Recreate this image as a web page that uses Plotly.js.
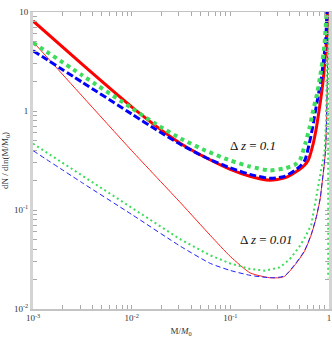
<!DOCTYPE html>
<html>
<head>
<meta charset="utf-8">
<script src="https://cdn.plot.ly/plotly-3.0.1.min.js"></script>
<style>
  html, body { margin: 0; padding: 0; background: #fff; }
  #myGraph { width: 332px; height: 337px; }
</style>
</head>
<body>
<div id="myGraph"></div>
<script>
// Δz = 0.1 (thick lines)
let thickRedM = [0.001, 0.00316, 0.01, 0.0178, 0.0316, 0.0562, 0.1, 0.158, 0.251, 0.355, 0.501, 0.562, 0.617, 0.692, 0.748, 0.794, 0.841, 0.881, 0.908, 0.938, 0.959, 0.973];
let thickRedN = [8.13, 2.95, 1.10, 0.700, 0.468, 0.339, 0.257, 0.219, 0.200, 0.211, 0.257, 0.282, 0.320, 0.468, 0.692, 1.02, 1.51, 2.24, 3.27, 4.79, 10.0, 25];

let thickBlueM = [0.001, 0.00316, 0.01, 0.0178, 0.0316, 0.0562, 0.1, 0.158, 0.251, 0.355, 0.501, 0.570, 0.631, 0.684, 0.731, 0.785, 0.841, 0.881, 0.920, 0.955, 0.973];
let thickBlueN = [4.07, 1.95, 0.933, 0.646, 0.457, 0.339, 0.266, 0.229, 0.209, 0.219, 0.272, 0.320, 0.468, 0.692, 1.02, 1.51, 2.24, 3.27, 4.79, 10.0, 25];

let thickGreenM = [0.001, 0.00316, 0.01, 0.0178, 0.0316, 0.0562, 0.1, 0.158, 0.251, 0.355, 0.447, 0.507, 0.575, 0.638, 0.692, 0.759, 0.813, 0.861, 0.902, 0.944, 0.966];
let thickGreenN = [4.90, 2.29, 1.07, 0.733, 0.525, 0.398, 0.316, 0.275, 0.251, 0.263, 0.285, 0.320, 0.468, 0.692, 1.02, 1.51, 2.24, 3.27, 4.79, 10.0, 25];

// Δz = 0.01 (thin lines)
let thinRedM = [0.001, 0.00316, 0.01, 0.0316, 0.0631, 0.1, 0.158, 0.200, 0.251, 0.316, 0.355, 0.447, 0.562, 0.661, 0.741, 0.813, 0.851, 0.891, 0.923, 0.944, 0.966, 0.977, 0.986];
let thinRedN = [5.01, 1.41, 0.398, 0.117, 0.0550, 0.0339, 0.0232, 0.0216, 0.0207, 0.0207, 0.0214, 0.0275, 0.0380, 0.0562, 0.0832, 0.129, 0.186, 0.275, 0.407, 0.794, 2.51, 10.0, 31.6];

let thinBlueM = [0.001, 0.00316, 0.01, 0.0316, 0.0631, 0.1, 0.158, 0.224, 0.282, 0.355, 0.447, 0.562, 0.661, 0.741, 0.813, 0.851, 0.891, 0.923, 0.944, 0.966, 0.977, 0.986];
let thinBlueN = [0.398, 0.188, 0.0902, 0.0427, 0.0288, 0.0245, 0.0219, 0.0209, 0.0207, 0.0216, 0.0279, 0.0385, 0.0569, 0.0841, 0.130, 0.188, 0.279, 0.412, 0.804, 2.51, 10.0, 31.6];

let thinGreenM = [0.001, 0.00316, 0.01, 0.0316, 0.0631, 0.1, 0.158, 0.224, 0.316, 0.398, 0.501, 0.575, 0.661, 0.741, 0.832, 0.902, 0.933, 0.955, 0.973, 0.979, 0.9813];
let thinGreenN = [0.468, 0.221, 0.106, 0.0501, 0.0347, 0.0288, 0.0254, 0.0244, 0.0263, 0.0316, 0.0427, 0.0537, 0.0708, 0.132, 0.240, 0.398, 0.794, 2.51, 10.0, 20, 0.0204];

// tick labels
let xTickVals = [0.001, 0.002, 0.003, 0.004, 0.005, 0.006, 0.007, 0.008, 0.009,
                 0.01, 0.02, 0.03, 0.04, 0.05, 0.06, 0.07, 0.08, 0.09,
                 0.1, 0.2, 0.3, 0.4, 0.5, 0.6, 0.7, 0.8, 0.9, 1];
let yTickVals = [0.01, 0.02, 0.03, 0.04, 0.05, 0.06, 0.07, 0.08, 0.09,
                 0.1, 0.2, 0.3, 0.4, 0.5, 0.6, 0.7, 0.8, 0.9,
                 1, 2, 3, 4, 5, 6, 7, 8, 9, 10];
let xMajor = {0.001: '10<sup>-3</sup>', 0.01: '10<sup>-2</sup>', 0.1: '10<sup>-1</sup>', 1: '1'};
let yMajor = {0.01: '10<sup>-2</sup>', 0.1: '10<sup>-1</sup>', 1: '1', 10: '10'};

let green = '#3ddc5c';

function curve(x, y, color, width, dash, shape) {
    return {
        type: 'scatter',
        mode: 'lines',
        x: x,
        y: y,
        line: {color: color, width: width, dash: dash, shape: shape || 'spline', smoothing: 0.6},
        hoverinfo: 'skip'
    };
}

let data = [
    curve(thinRedM, thinRedN, '#ff2020', 1, 'solid'),
    curve(thinBlueM, thinBlueN, '#2020ff', 1, '5px,3px'),
    curve(thinGreenM, thinGreenN, green, 2, '2px,3px', 'linear'),
    curve(thickRedM, thickRedN, '#ff0000', 3, 'solid'),
    curve(thickBlueM, thickBlueN, '#0000ff', 3, '7px,3px'),
    curve(thickGreenM, thickGreenN, green, 4, '4px,4px')
];

let serif = 'Liberation Serif, Times New Roman, serif';

let layout = {
    width: 332,
    height: 337,
    margin: {l: 33, r: 3, t: 12, b: 28},
    showlegend: false,
    paper_bgcolor: '#fff',
    plot_bgcolor: '#fff',
    font: {family: serif, size: 10, color: '#333'},
    xaxis: {
        type: 'log',
        range: [-3, 0],
        showgrid: false,
        zeroline: false,
        showline: true,
        linecolor: '#c4c4c4',
        linewidth: 1.5,
        mirror: 'ticks',
        ticks: 'inside',
        ticklen: 4,
        tickcolor: '#aaa',
        tickvals: xTickVals,
        ticktext: xTickVals.map(v => xMajor[v] || ''),
        tickfont: {family: serif, size: 9, color: '#333'},
        title: {text: 'M/<i>M</i><sub>0</sub>', font: {family: serif, size: 9, color: '#333'}, standoff: 8}
    },
    yaxis: {
        type: 'log',
        range: [-2, 1],
        showgrid: false,
        zeroline: false,
        showline: true,
        linecolor: '#d4d4d4',
        linewidth: 3,
        mirror: 'ticks',
        ticks: 'inside',
        ticklen: 4,
        tickcolor: '#aaa',
        tickvals: yTickVals,
        ticktext: yTickVals.map(v => yMajor[v] || ''),
        tickfont: {family: serif, size: 9, color: '#333'},
        title: {text: 'dN / dln(M/M<sub>0</sub>)', font: {family: serif, size: 9, color: '#333'}, standoff: 6}
    },
    annotations: [
        {xref: 'paper', yref: 'paper', x: 0.66, y: 0.552, xanchor: 'left', showarrow: false,
         text: 'Δ <i>z</i> = <i>0.1</i>', font: {family: serif, size: 13, color: '#111'}},
        {xref: 'paper', yref: 'paper', x: 0.692, y: 0.202, xanchor: 'left', showarrow: false,
         text: 'Δ <i>z</i> = <i>0.01</i>', font: {family: serif, size: 13, color: '#111'}}
    ]
};

Plotly.newPlot('myGraph', data, layout, {staticPlot: true, displayModeBar: false});
</script>
</body>
</html>
